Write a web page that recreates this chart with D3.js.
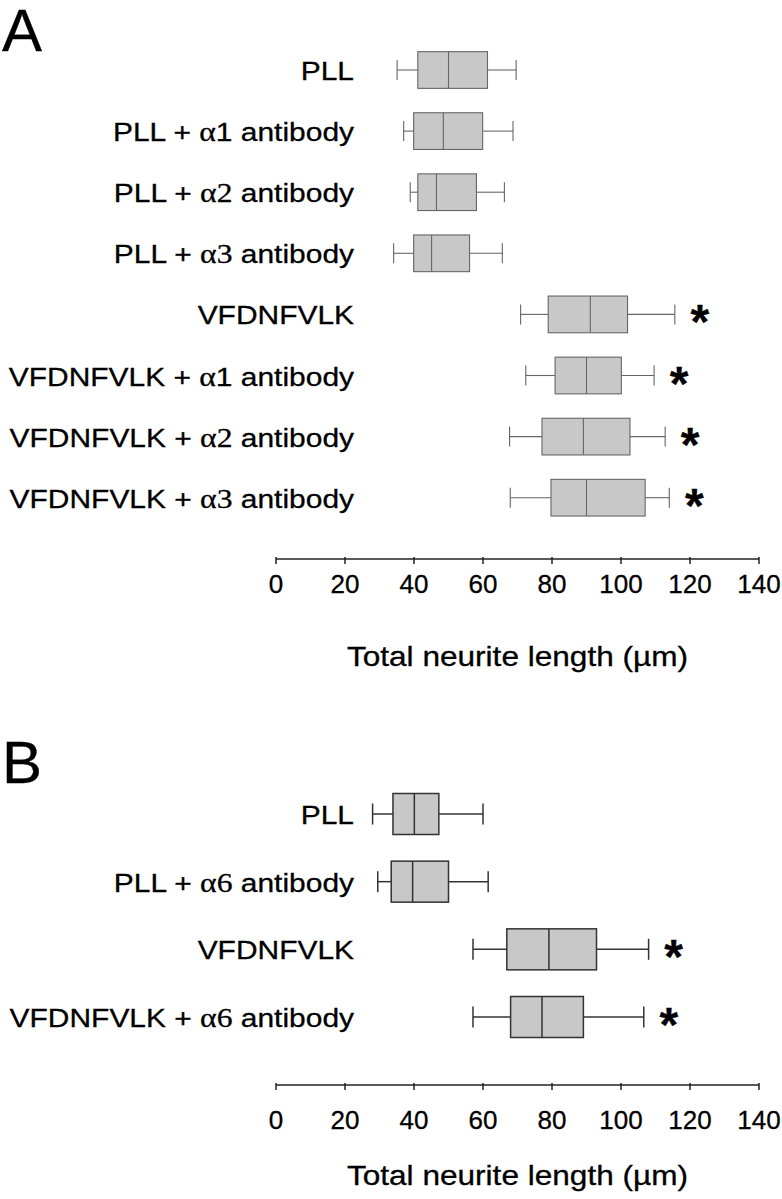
<!DOCTYPE html>
<html>
<head>
<meta charset="utf-8">
<script src="https://cdn.jsdelivr.net/npm/d3@7"></script>
<style>
  html, body { margin: 0; padding: 0; background: #fff; }
  svg { display: block; }
  text { font-family: "Liberation Sans", Arial, sans-serif; fill: #000; stroke: #000; stroke-width: 0.3px; }
</style>
</head>
<body>
<svg id="chart" width="782" height="1199"></svg>
<script>
// ---------- Data ----------
const tickValues = [0, 20, 40, 60, 80, 100, 120, 140];
const axisTitle = "Total neurite length (\u00b5m)";

// Panel A
const categoriesA = [
  ["PLL", null, null],
  ["PLL + ", "\u03b1", "1"],
  ["PLL + ", "\u03b1", "2"],
  ["PLL + ", "\u03b1", "3"],
  ["VFDNFVLK", null, null],
  ["VFDNFVLK + ", "\u03b1", "1"],
  ["VFDNFVLK + ", "\u03b1", "2"],
  ["VFDNFVLK + ", "\u03b1", "3"]
];
const whiskerLowA  = [35.1, 37.0, 38.9, 34.1, 70.9, 72.4, 67.7, 67.9];
const q1A          = [41.1, 39.9, 41.1, 39.9, 78.9, 80.9, 77.1, 79.7];
const medianA      = [50.0, 48.5, 46.5, 45.1, 91.1, 90.0, 89.1, 90.0];
const q3A          = [61.3, 59.9, 58.1, 56.1, 101.9, 100.1, 102.6, 107.0];
const whiskerHighA = [69.6, 68.7, 66.2, 65.6, 115.6, 109.6, 112.8, 114.0];
const significantA = [false, false, false, false, true, true, true, true];

// Panel B
const categoriesB = [
  ["PLL", null, null],
  ["PLL + ", "\u03b1", "6"],
  ["VFDNFVLK", null, null],
  ["VFDNFVLK + ", "\u03b1", "6"]
];
const whiskerLowB  = [28.0, 29.5, 57.1, 57.1];
const q1B          = [33.9, 33.4, 66.9, 68.0];
const medianB      = [40.1, 39.6, 79.1, 77.1];
const q3B          = [47.2, 50.0, 92.9, 89.1];
const whiskerHighB = [60.0, 61.5, 108.0, 106.6];
const significantB = [false, false, true, true];

// ---------- Drawing ----------
const svg = d3.select("#chart");
const x = d3.scaleLinear().domain([0, 140]).range([276, 759]);

function panel(opts) {
  const { letter, letterY, cats, lo, q1, med, q3, hi, sig, yRange, boxH, capH,
          axisY, tickLabelY, titleY, stroke, strokeW } = opts;
  const idx = cats.map((d, i) => i);
  const y = d3.scalePoint().domain(idx).range(yRange);
  const g = svg.append("g");

  // panel letter
  g.append("text").attr("x", 2).attr("y", letterY)
    .attr("font-size", 60).attr("stroke-width", 0.5).text(letter);

  // category labels
  idx.forEach(i => {
    const c = cats[i];
    const t = g.append("text")
      .attr("transform", `translate(354,${y(i) + 10}) scale(1.13,1)`)
      .attr("text-anchor", "end")
      .attr("font-size", 26.5);
    t.append("tspan").text(c[0]);
    if (c[1]) {
      t.append("tspan").attr("font-family", "Liberation Serif, Times New Roman, serif")
        .attr("font-size", 28).text(c[1]);
      t.append("tspan")
        .attr("font-family", c[2] === "1" ? "Liberation Sans, Arial, sans-serif" : "Liberation Serif, Times New Roman, serif")
        .attr("font-size", c[2] === "1" ? 26.5 : 28)
        .text(c[2]);
      t.append("tspan").text(" antibody");
    }
  });

  // boxes
  const rows = g.selectAll("g.row").data(idx).join("g").attr("class", "row");
  rows.append("line").attr("x1", i => x(lo[i])).attr("x2", i => x(q1[i]))
    .attr("y1", i => y(i)).attr("y2", i => y(i));
  rows.append("line").attr("x1", i => x(q3[i])).attr("x2", i => x(hi[i]))
    .attr("y1", i => y(i)).attr("y2", i => y(i));
  rows.append("line").attr("x1", i => x(lo[i])).attr("x2", i => x(lo[i]))
    .attr("y1", i => y(i) - capH / 2).attr("y2", i => y(i) + capH / 2);
  rows.append("line").attr("x1", i => x(hi[i])).attr("x2", i => x(hi[i]))
    .attr("y1", i => y(i) - capH / 2).attr("y2", i => y(i) + capH / 2);
  rows.append("rect").attr("x", i => x(q1[i])).attr("width", i => x(q3[i]) - x(q1[i]))
    .attr("y", i => y(i) - boxH / 2).attr("height", boxH)
    .attr("fill", "#c8c8c8");
  rows.append("line").attr("x1", i => x(med[i])).attr("x2", i => x(med[i]))
    .attr("y1", i => y(i) - boxH / 2).attr("y2", i => y(i) + boxH / 2);
  rows.selectAll("line, rect").attr("stroke", stroke).attr("stroke-width", strokeW);

  // significance asterisks
  rows.filter(i => sig[i]).append("text")
    .attr("x", i => x(hi[i]) + 25).attr("y", i => y(i) + 24)
    .attr("text-anchor", "middle").attr("font-weight", "bold")
    .attr("font-size", 48).text("*");

  // axis
  const ax = g.append("g").attr("transform", `translate(0,${axisY})`);
  ax.append("line").attr("x1", x(0)).attr("x2", x(140))
    .attr("stroke", "#222").attr("stroke-width", 1.5);
  ax.selectAll("line.tick").data(tickValues).join("line").attr("class", "tick")
    .attr("x1", d => x(d)).attr("x2", d => x(d)).attr("y1", -2).attr("y2", 5)
    .attr("stroke", "#222").attr("stroke-width", 1.5);
  g.selectAll("text.tl").data(tickValues).join("text").attr("class", "tl")
    .attr("x", d => x(d)).attr("y", tickLabelY)
    .attr("text-anchor", "middle").attr("font-size", 26).text(d => d);

  g.append("text")
    .attr("transform", `translate(${(x(0) + x(140)) / 2},${titleY}) scale(1.17,1)`)
    .attr("text-anchor", "middle").attr("font-size", 27).text(axisTitle);
}

panel({
  letter: "A", letterY: 51, cats: categoriesA,
  lo: whiskerLowA, q1: q1A, med: medianA, q3: q3A, hi: whiskerHighA, sig: significantA,
  yRange: [70, 497.7], boxH: 36.7, capH: 20,
  axisY: 559, tickLabelY: 593, titleY: 665.5, stroke: "#666", strokeW: 1.1
});

panel({
  letter: "B", letterY: 783, cats: categoriesB,
  lo: whiskerLowB, q1: q1B, med: medianB, q3: q3B, hi: whiskerHighB, sig: significantB,
  yRange: [814, 1017], boxH: 41, capH: 21,
  axisY: 1085, tickLabelY: 1128.5, titleY: 1185, stroke: "#333", strokeW: 1.5
});
</script>
</body>
</html>
